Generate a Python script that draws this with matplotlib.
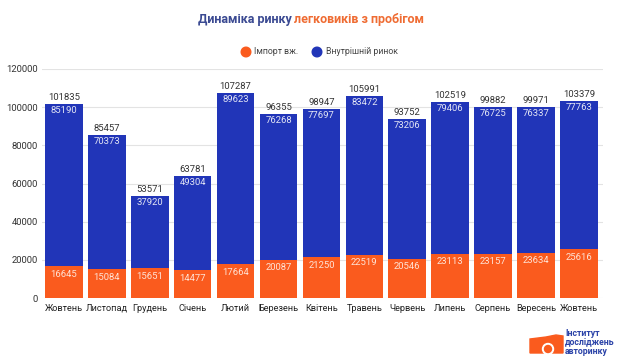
import matplotlib
matplotlib.use("Agg")
import matplotlib.pyplot as plt
import numpy as np
from matplotlib.patches import Polygon, Ellipse

months = ["Жовтень", "Листопад", "Грудень", "Січень", "Лютий", "Березень", "Квітень",
          "Травень", "Червень", "Липень", "Серпень", "Вересень", "Жовтень"]
import_vals = [16645, 15084, 15651, 14477, 17664, 20087, 21250, 22519, 20546, 23113, 23157, 23634, 25616]
domestic_vals = [85190, 70373, 37920, 49304, 89623, 76268, 77697, 83472, 73206, 79406, 76725, 76337, 77763]
totals = [101835, 85457, 53571, 63781, 107287, 96355, 98947, 105991, 93752, 102519, 99882, 99971, 103379]
yticks = [0, 20000, 40000, 60000, 80000, 100000, 120000]

ORANGE = "#fa5b1e"
BLUE = "#2135b8"
FONT = "Roboto"
FS = 6.8

W, H = 620, 361
fig = plt.figure(figsize=(W / 100, H / 100), dpi=100)
fig.patch.set_facecolor("white")

ax_l, ax_r = 42, 603
ax_top, ax_bot = 69, 298
ax = fig.add_axes([ax_l / W, 1 - ax_bot / H, (ax_r - ax_l) / W, (ax_bot - ax_top) / H])

x = np.arange(len(months))
bw = 0.876
ax.bar(x, import_vals, width=bw, color=ORANGE, zorder=2)
ax.bar(x, domestic_vals, width=bw, bottom=import_vals, color=BLUE, zorder=2)

ax.set_xlim(-0.51, 12.56)
ax.set_ylim(0, 120000)
ax.set_yticks(yticks)
ax.set_yticklabels([str(v) for v in yticks], fontsize=FS, color="#333333", family=FONT)
ax.set_xticks(x)
ax.set_xticklabels(months, fontsize=6.6, color="#222222", family=FONT)
ax.tick_params(axis="both", length=0)
ax.tick_params(axis="y", pad=3)
ax.tick_params(axis="x", pad=4)
for s in ax.spines.values():
    s.set_visible(False)
ax.grid(axis="y", color="#e3e3e3", linewidth=0.8, zorder=0)
ax.set_axisbelow(True)

for i in range(len(months)):
    t = import_vals[i] + domestic_vals[i]
    ax.annotate(str(totals[i]), (x[i], t), xytext=(0, 1.5), textcoords="offset points",
                ha="center", va="bottom", fontsize=FS, color="#333333", family=FONT)
    ax.annotate(str(domestic_vals[i]), (x[i], t), xytext=(0, -1.5), textcoords="offset points",
                ha="center", va="top", fontsize=FS, color="#e4e6f5", family=FONT)
    ax.annotate(str(import_vals[i]), (x[i], import_vals[i]), xytext=(0, -2.5), textcoords="offset points",
                ha="center", va="top", fontsize=FS, color="#ffe3d6", family=FONT)

# Title
ty = 1 - 20 / H
gap = 3.0
t1 = fig.text(0.5, ty, "Динаміка ринку", ha="left", va="center", fontsize=9,
              fontweight="bold", color="#3b4a92", family=FONT)
t2 = fig.text(0.5, ty, "легковиків з пробігом", ha="left", va="center", fontsize=9,
              fontweight="bold", color="#ef6c33", family=FONT)
fig.canvas.draw()
r = fig.canvas.get_renderer()
w1 = t1.get_window_extent(r).width
w2 = t2.get_window_extent(r).width
start = 311 - (w1 + gap + w2) / 2
t1.set_position((start / W, ty))
t2.set_position(((start + w1 + gap) / W, ty))

# Legend
ly = 1 - 52 / H
rr = 4.8
fig.patches.append(Ellipse((246 / W, ly), 2 * rr / W, 2 * rr / H, transform=fig.transFigure, color=ORANGE))
fig.text(254 / W, ly, "Імпорт вж.", ha="left", va="center", fontsize=6.3, color="#444444", family=FONT)
fig.patches.append(Ellipse((317 / W, ly), 2 * rr / W, 2 * rr / H, transform=fig.transFigure, color=BLUE))
fig.text(326 / W, ly, "Внутрішній ринок", ha="left", va="center", fontsize=6.3, color="#444444", family=FONT)

# Logo
def px(xp, yp):
    return (xp / W, 1 - yp / H)
logo = Polygon([px(530, 339), px(546, 337), px(556, 335), px(563, 336), px(563, 353), px(530, 353)],
               closed=True, transform=fig.transFigure, color=ORANGE)
fig.patches.append(logo)
fig.patches.append(Ellipse(px(548, 349), 11 / W, 11 / H, transform=fig.transFigure, color="white"))
fig.patches.append(Ellipse(px(548, 349), 7 / W, 7 / H, transform=fig.transFigure, color=ORANGE))
fig.text(565 / W, 1 - 342 / H, "Інститут\nдосліджень\nавторинку", ha="left", va="center",
         fontsize=6.3, fontweight="bold", color="#2b43a8", family=FONT, linespacing=1.0)

fig.savefig("out.png", dpi=100, facecolor="white")
